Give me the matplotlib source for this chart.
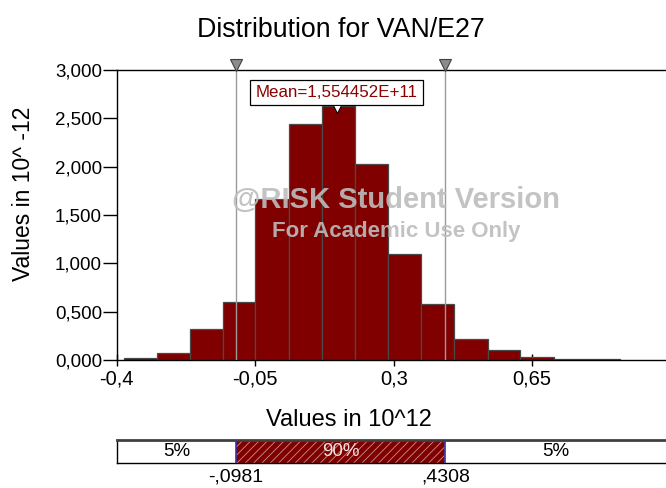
import matplotlib
matplotlib.use("Agg")
import matplotlib.pyplot as plt
from matplotlib import font_manager
import matplotlib.transforms as mtransforms

# ---------------- data ----------------
bin_edges = [-0.3812, -0.2988, -0.2147, -0.1323, -0.0500, 0.0342, 0.1184, 0.2026,
             0.2859, 0.3691, 0.4533, 0.5375, 0.6198, 0.7040, 0.7882, 0.8706]
densities = [0.024, 0.069, 0.324, 0.600, 1.662, 2.441, 2.631, 2.031,
             1.093, 0.579, 0.214, 0.107, 0.028, 0.014, 0.014]
p5, p95 = -0.0981, 0.4308
mean_val = 0.1554452
mean_label = "Mean=1,554452E+11"
xticks = [-0.4, -0.05, 0.3, 0.65]
xtick_labels = ["-0,4", "-0,05", "0,3", "0,65"]
yticks = [0.0, 0.5, 1.0, 1.5, 2.0, 2.5, 3.0]
ytick_labels = ["0,000", "0,500", "1,000", "1,500", "2,000", "2,500", "3,000"]
pct_labels = ["5%", "90%", "5%"]
p_labels = ["-,0981", ",4308"]
title = "Distribution for VAN/E27"
xlabel = "Values in 10^12"
ylabel = "Values in 10^ -12"

# ---------------- fonts ----------------
names = {f.name for f in font_manager.fontManager.ttflist}
base = "Liberation Sans" if "Liberation Sans" in names else "DejaVu Sans"
has_narrow = "Liberation Sans Narrow" in names
narrow = "Liberation Sans Narrow" if has_narrow else base
plt.rcParams["font.family"] = [base, "DejaVu Sans"]
plt.rcParams["hatch.linewidth"] = 0.6

W, H = 666, 488
fig = plt.figure(figsize=(W / 100, H / 100), dpi=100)

def fx(px):
    return px / W

def fy(py):
    return (H - py) / H

XL = (-0.4, 0.988)
ax_left, ax_top, ax_bot = 116.7, 70, 360
ax = fig.add_axes([fx(ax_left), fy(ax_bot), 1 - fx(ax_left), (ax_bot - ax_top) / H])

widths = [bin_edges[i + 1] - bin_edges[i] for i in range(len(densities))]
ax.bar(bin_edges[:-1], densities, width=widths, align="edge",
       color="#800000", edgecolor="#4a4a4a", linewidth=0.9, zorder=2)

ax.set_xlim(*XL)
ax.set_ylim(0, 3.0)
ax.set_xticks(xticks)
ax.set_xticklabels(xtick_labels, fontsize=14.5)
ax.set_yticks(yticks)
ax.set_yticklabels(ytick_labels, fontsize=13.5)
ax.tick_params(axis="y", direction="out", length=10, width=1, pad=0.5)
ax.tick_params(axis="x", direction="inout", length=8, width=1, pad=3)
for s in ["left", "bottom", "top"]:
    ax.spines[s].set_linewidth(1.0)
    ax.spines[s].set_color("black")
ax.spines["right"].set_visible(False)

# percentile lines and markers
trans = mtransforms.blended_transform_factory(ax.transData, ax.transAxes)
for p in (p5, p95):
    ax.axvline(p, color="#9a9a9a", linewidth=1.0, zorder=3)
    ax.plot([p], [1.018], marker="v", markersize=8, markerfacecolor="#8c8c8c",
            markeredgecolor="#404040", markeredgewidth=0.8,
            transform=trans, clip_on=False, zorder=5)

# mean label
ax.text(mean_val, 2.767, mean_label, ha="center", va="center",
        fontsize=14 if has_narrow else 12.2,
        family=[narrow, base], color="#8b0000", zorder=6,
        bbox=dict(boxstyle="square,pad=0.3", facecolor="white",
                  edgecolor="black", linewidth=0.9))
ax.plot([mean_val], [2.60], marker="v", markersize=5.5, markerfacecolor="white",
        markeredgecolor="black", markeredgewidth=0.7, zorder=7, clip_on=False)

# watermark
fig.text(fx(396), fy(200), "@RISK Student Version", ha="center", va="center",
         fontsize=21, fontweight="bold", color="#bdbdbd", alpha=0.9, zorder=10)
fig.text(fx(396), fy(231), "For Academic Use Only", ha="center", va="center",
         fontsize=16, fontweight="bold", color="#bdbdbd", alpha=0.9, zorder=10,
         family=[narrow, base])

# titles
fig.text(fx(341), fy(30), title, ha="center", va="center", fontsize=19.3)
fig.text(fx(24), fy(194), ylabel, ha="center", va="center", fontsize=16.5,
         rotation=90)
fig.text(fx(349), fy(420), xlabel, ha="center", va="center", fontsize=17)

# ---------------- bottom percentile bar ----------------
b_top, b_bot = 440, 463.3
ax2 = fig.add_axes([fx(ax_left), fy(b_bot), 1 - fx(ax_left), (b_bot - b_top) / H])
ax2.set_xlim(*XL)
ax2.set_ylim(0, 1)
ax2.axvspan(XL[0], p5, color="white", zorder=1)
ax2.axvspan(p5, p95, facecolor="#800000", edgecolor="#c89090", linewidth=0,
            hatch="////", zorder=1)
ax2.axvspan(p95, XL[1], color="white", zorder=1)
for p in (p5, p95):
    ax2.axvline(p, color="#3535a0", linewidth=1.2, zorder=3)
ax2.set_xticks([])
ax2.set_yticks([])
ax2.spines["right"].set_visible(False)
ax2.spines["top"].set_color("#404040")
ax2.spines["top"].set_linewidth(2.0)
ax2.spines["bottom"].set_color("black")
ax2.spines["bottom"].set_linewidth(1.0)
ax2.spines["left"].set_color("black")
ax2.spines["left"].set_linewidth(1.0)

centers = [(XL[0] + p5) / 2, (p5 + p95) / 2, (p95 + XL[1]) / 2]
colors = ["black", "#f0e0e0", "black"]
for c, lab, col in zip(centers, pct_labels, colors):
    ax2.text(c, 0.5, lab, ha="center", va="center", fontsize=13.5, color=col,
             zorder=4)
for p, lab in zip((p5, p95), p_labels):
    ax2.text(p, -0.6, lab, ha="center", va="center", fontsize=14, color="black",
             clip_on=False)

fig.savefig("out.png", dpi=100)
